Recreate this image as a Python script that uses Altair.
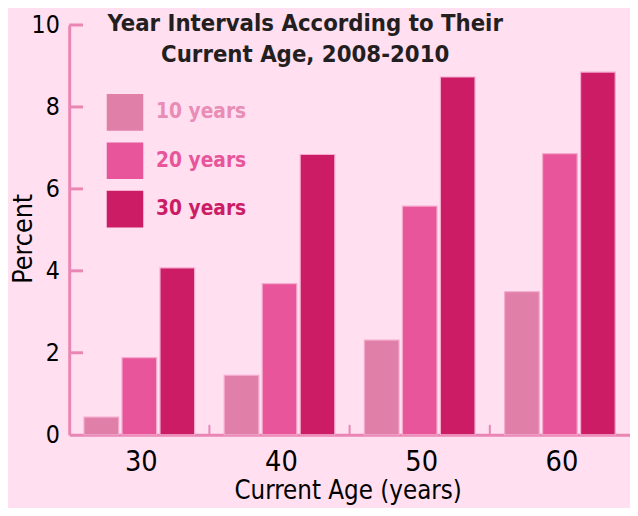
import altair as alt
import pandas as pd

ages = ["30", "40", "50", "60"]
series = ["10 years", "20 years", "30 years"]
v10 = [0.43, 1.45, 2.31, 3.49]
v20 = [1.88, 3.69, 5.58, 6.86]
v30 = [4.07, 6.84, 8.73, 8.85]
y_ticks = [2, 4, 6, 8, 10]
boundary_ages = ["40", "50", "60"]

bar_colors = ["#E07FA8", "#E8559A", "#CC1C65"]
label_colors = ["#E98CB6", "#E8559A", "#CC1C65"]
axis_color = "#E986B4"
bg = "#FFDFF0"
FONT = "DejaVu Sans Condensed, Liberation Sans Narrow, sans-serif"

rows = []
for s, vals in zip(series, [v10, v20, v30]):
    for a, v in zip(ages, vals):
        rows.append({"age": a, "series": s, "value": v})
df = pd.DataFrame(rows)

W, H = 568, 415

label_expr = (
    f"datum.label == '{series[0]}' ? '{label_colors[0]}' : "
    f"datum.label == '{series[1]}' ? '{label_colors[1]}' : '{label_colors[2]}'"
)

x_scale = alt.Scale(domain=ages, paddingInner=0, paddingOuter=0)
y_scale = alt.Scale(domain=[0, 10], nice=False)

x_axis = alt.Axis(title="Current Age (years)", labelAngle=0, ticks=False,
                  domainColor=axis_color, domainWidth=3,
                  labelFont=FONT, labelFontSize=29, labelColor="#000000",
                  labelPadding=13, labelOffset=2,
                  titleFont=FONT, titleFontSize=26, titleFontWeight="normal",
                  titleColor="#000000", titleX=282, titleY=65,
                  titleBaseline="alphabetic", titleAlign="center")
y_axis = alt.Axis(title="Percent", values=[0, 2, 4, 6, 8, 10], ticks=False,
                  grid=False, domainColor=axis_color, domainWidth=3,
                  labelFont=FONT, labelFontSize=25, labelColor="#000000",
                  labelPadding=10,
                  titleFont=FONT, titleFontSize=27, titleFontWeight="normal",
                  titleColor="#000000", titleX=-38, titleY=216,
                  titleBaseline="alphabetic", titleAlign="center")

bars = alt.Chart(df).mark_bar(stroke="#F4A9CD", strokeWidth=1.2).encode(
    x=alt.X("age:N", scale=x_scale, sort=ages, axis=x_axis),
    xOffset=alt.XOffset("series:N", sort=series,
                        scale=alt.Scale(paddingInner=0.09, paddingOuter=0.39)),
    y=alt.Y("value:Q", scale=y_scale, axis=y_axis),
    color=alt.Color("series:N", sort=series,
                    scale=alt.Scale(domain=series, range=bar_colors),
                    legend=alt.Legend(title=None, orient="none", legendX=38, legendY=70,
                                      symbolType="square", symbolSize=1369,
                                      symbolStrokeWidth=0, symbolOpacity=1,
                                      labelFont=FONT, labelFontSize=21,
                                      labelFontWeight="bold",
                                      labelColor=alt.ExprRef(expr=label_expr),
                                      labelOffset=13, rowPadding=12)),
)

ytick_df = pd.DataFrame({"value": y_ticks})
yticks = alt.Chart(ytick_df).mark_rule(color=axis_color, strokeWidth=3).encode(
    y=alt.Y("value:Q", scale=y_scale, axis=y_axis),
    x=alt.value(0),
    x2=alt.value(14),
)

xtick_df = pd.DataFrame({"age": boundary_ages})
xticks = alt.Chart(xtick_df).mark_rule(color=axis_color, strokeWidth=2).encode(
    x=alt.X("age:N", scale=x_scale, sort=ages, bandPosition=0, axis=x_axis),
    y=alt.value(H),
    y2=alt.value(H - 10),
)

chart = alt.layer(bars, yticks, xticks).properties(
    width=W,
    height=H,
    background=bg,
    padding={"left": 62, "top": 14, "right": 0, "bottom": 71},
    autosize=alt.AutoSizeParams(type="none"),
    title=alt.TitleParams(
        text=["Year Intervals According to Their", "Current Age, 2008-2010"],
        font=FONT, fontSize=24, fontWeight="bold", color="#231F20",
        anchor="middle", frame="group", dx=-45, dy=13, offset=-42, lineHeight=32,
    ),
).configure_view(stroke=None)

chart.save("out.html", embed_options={"renderer": "svg", "actions": False})
